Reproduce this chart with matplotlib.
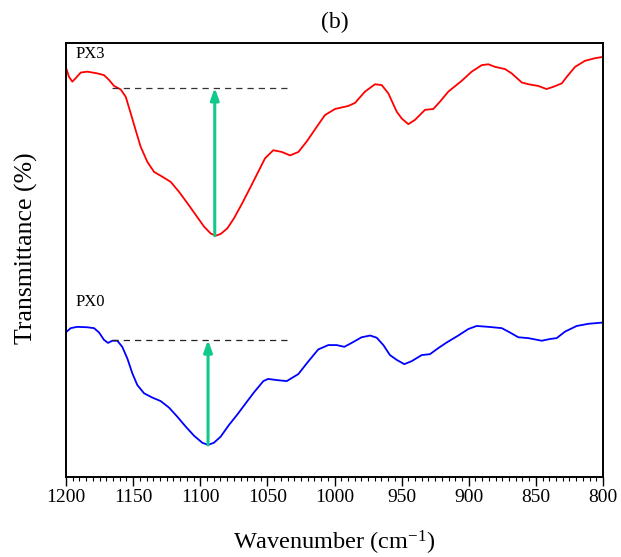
import matplotlib
matplotlib.use("Agg")
import matplotlib.pyplot as plt
from matplotlib.ticker import MultipleLocator

plt.rcParams['font.family'] = ['Liberation Serif', 'DejaVu Serif']
plt.rcParams['mathtext.default'] = 'regular'

# Data (wavenumber in cm^-1, transmittance in arbitrary offset units)
wn_px3 = [1199.5, 1197.8, 1195.3, 1192.8, 1189.0, 1184.1, 1176.7, 1171.7, 1168.0, 1164.2,
          1159.3, 1155.5, 1151.8, 1148.1, 1144.4, 1139.4, 1134.4, 1128.3, 1122.0, 1115.8,
          1109.6, 1103.4, 1097.2, 1092.2, 1088.5, 1084.8, 1079.8, 1074.9, 1068.7, 1062.4,
          1056.2, 1051.8, 1045.6, 1039.3, 1033.1, 1026.9, 1020.7, 1013.2, 1007.1, 999.6,
          989.7, 984.7, 977.3, 969.8, 964.8, 959.9, 953.7, 949.9, 945.0, 940.0,
          932.6, 926.4, 921.4, 915.2, 905.2, 897.8, 890.3, 885.4, 880.4, 873.0,
          868.0, 860.5, 855.6, 848.2, 842.1, 837.0, 830.7, 827.0, 820.8, 813.4,
          805.9, 800.0]
t_px3 = [93.9, 92.2, 91.1, 91.9, 93.2, 93.4, 93.0, 92.6, 91.5, 90.1,
         89.3, 87.6, 83.8, 79.9, 76.1, 72.6, 70.3, 69.2, 68.0, 65.7,
         63.1, 60.4, 57.7, 56.1, 55.6, 56.0, 57.3, 59.6, 63.1, 66.9,
         70.7, 73.4, 75.3, 74.9, 74.1, 74.9, 77.3, 80.7, 83.4, 84.8,
         85.5, 86.2, 88.8, 90.5, 90.3, 88.4, 84.2, 82.6, 81.3, 82.3,
         84.6, 84.8, 86.5, 88.8, 91.3, 93.4, 94.9, 95.1, 94.5, 94.0,
         93.0, 90.9, 90.5, 90.1, 89.4, 89.9, 90.7, 92.2, 94.5, 95.9,
         96.5, 96.8]

wn_px0 = [1199.5, 1196.5, 1191.6, 1184.1, 1179.1, 1175.4, 1171.7, 1168.7, 1165.5, 1161.8,
          1158.1, 1154.3, 1150.6, 1146.9, 1141.9, 1135.7, 1129.5, 1123.3, 1117.1, 1110.8,
          1104.6, 1098.5, 1094.2, 1089.8, 1084.8, 1078.6, 1072.4, 1066.1, 1060.0, 1053.0,
          1049.5, 1042.1, 1035.6, 1027.0, 1019.6, 1012.1, 1004.6, 998.4, 992.7, 987.2,
          979.8, 973.4, 968.6, 963.6, 958.7, 953.7, 948.0, 942.5, 935.0, 928.9,
          922.7, 916.4, 907.8, 900.3, 894.1, 885.4, 875.4, 869.3, 863.1, 855.6,
          845.6, 839.5, 834.5, 828.3, 819.6, 810.9, 800.0]
t_px0 = [33.5, 34.3, 34.6, 34.5, 34.3, 33.3, 31.6, 30.9, 31.4, 31.4,
         30.0, 27.3, 23.9, 21.2, 19.3, 18.3, 17.5, 16.0, 13.9, 11.6,
         9.5, 7.9, 7.4, 7.9, 9.3, 12.0, 14.4, 17.0, 19.5, 22.1,
         22.6, 22.3, 22.1, 23.7, 26.6, 29.4, 30.4, 30.4, 30.0, 30.9,
         32.2, 32.6, 32.1, 30.4, 28.1, 27.0, 26.0, 26.7, 28.1, 28.3,
         29.7, 31.0, 32.6, 34.1, 34.8, 34.6, 34.3, 33.3, 32.2, 32.0,
         31.4, 31.8, 32.0, 33.5, 34.8, 35.3, 35.6]

labels = ["PX3", "PX0"]
label_pos = [(1192.6, 97.5), (1192.6, 40.3)]
base_px3 = 89.7
base_px0 = 31.6
dash_range_px3 = (1166.0, 1033.1)
dash_range_px0 = (1165.5, 1033.1)
arrow_px3 = (1089.2, 55.6)
arrow_px0 = (1094.2, 7.4)

fig = plt.figure(figsize=(6.21, 5.57), dpi=100)
ax = fig.add_axes([0.1063, 0.1436, 0.8647, 0.7792])

ax.plot(wn_px3, t_px3, color='#ff0000', lw=1.3, solid_joinstyle='round')
ax.plot(wn_px0, t_px0, color='#0000ff', lw=1.3, solid_joinstyle='round')

ax.plot(dash_range_px3, [base_px3, base_px3], ls=(0, (5, 4)), color='#333333', lw=0.9)
ax.plot(dash_range_px0, [base_px0, base_px0], ls=(0, (5, 4)), color='#222222', lw=0.9)

green = '#11c98b'
for (x, y0), yb in [(arrow_px3, base_px3), (arrow_px0, base_px0)]:
    ax.annotate('', xy=(x, yb), xytext=(x, y0),
                arrowprops=dict(arrowstyle='-|>,head_length=0.7,head_width=0.25',
                                color=green, lw=2.2, shrinkA=0, shrinkB=0))

for lab, (lx, ly) in zip(labels, label_pos):
    ax.text(lx, ly, lab, fontsize=12, va='center', ha='left')

ax.set_xlim(1200, 800)
ax.set_ylim(0, 100)
ax.xaxis.set_major_locator(MultipleLocator(50))
ax.xaxis.set_minor_locator(MultipleLocator(5))
ax.tick_params(axis='x', which='major', direction='out', length=6.5, width=1.0,
               labelsize=14, pad=1.8, top=False)
ax.tick_params(axis='x', which='minor', direction='out', length=3.2, width=0.8, top=False)
ax.set_yticks([])
for s in ax.spines.values():
    s.set_linewidth(1.4)

ax.set_xlabel('Wavenumber (cm$^{-1}$)', fontsize=17.5, labelpad=17)
ax.set_ylabel('Transmittance (%)', fontsize=18.5)
ax.yaxis.set_label_coords(-0.052, 0.528)
ax.set_title('(b)', fontsize=17, pad=11)

fig.savefig('out.png', dpi=100)
